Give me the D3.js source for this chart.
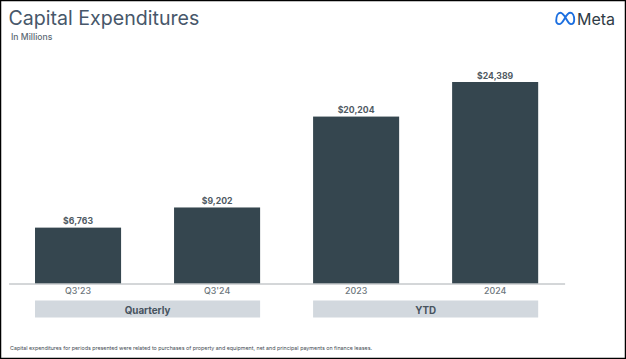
<!DOCTYPE html>
<html>
<head>
<meta charset="utf-8">
<script src="https://cdn.jsdelivr.net/npm/d3@7"></script>
<style>
  html, body { margin: 0; padding: 0; background: #fff; }
  svg { display: block; }
  text { font-family: Inter, "Open Sans", sans-serif; }
</style>
</head>
<body>
<div id="chart"></div>
<script>
var periods = ["Q3'23", "Q3'24", "2023", "2024"];
var capex = [6763, 9202, 20204, 24389];
var groupNames = ["Quarterly", "YTD"];
var groupMembers = [["Q3'23", "Q3'24"], ["2023", "2024"]];

var width = 626, height = 359;

var svg = d3.select("#chart").append("svg")
  .attr("width", width)
  .attr("height", height);

// frame of the slide screenshot
svg.append("rect")
  .attr("x", 0.5).attr("y", 0.5)
  .attr("width", width - 1).attr("height", height - 1)
  .attr("fill", "#fff")
  .attr("stroke", "#000")
  .attr("stroke-width", 1.5);

var x_scale = d3.scaleBand()
  .domain(periods)
  .range([8.6, 564.6])
  .paddingInner(0.381)
  .paddingOuter(0.19);

var y_scale = d3.scaleLinear()
  .domain([0, 24389])
  .range([283.5, 82]);

// title
svg.append("text")
  .attr("x", 8.5).attr("y", 25)
  .attr("font-size", 19.6)
  .attr("fill", "#47576a")
  .text("Capital Expenditures");

svg.append("text")
  .attr("x", 11).attr("y", 40)
  .attr("font-size", 8.6)
  .attr("font-weight", 500)
  .attr("fill", "#5d6a75")
  .text("In Millions");

// bars
svg.selectAll("rect.bar")
  .data(periods)
  .join("rect")
  .attr("class", "bar")
  .attr("x", function(d) { return x_scale(d); })
  .attr("width", x_scale.bandwidth())
  .attr("y", function(d, i) { return y_scale(capex[i]); })
  .attr("height", function(d, i) { return y_scale(0) - y_scale(capex[i]); })
  .attr("fill", "#35464f");

// value labels
svg.selectAll("text.value")
  .data(periods)
  .join("text")
  .attr("class", "value")
  .attr("x", function(d) { return x_scale(d) + x_scale.bandwidth() / 2; })
  .attr("y", function(d, i) { return y_scale(capex[i]) - 3.2; })
  .attr("text-anchor", "middle")
  .attr("font-size", 8.7)
  .attr("font-weight", 700)
  .attr("fill", "#4f5a63")
  .text(function(d, i) { return d3.format("$,")(capex[i]); });

// axis
var axis = svg.append("g")
  .attr("transform", "translate(0,283.5)")
  .call(d3.axisBottom(x_scale).tickSize(0).tickPadding(4.5));

axis.select(".domain")
  .attr("stroke", "#a9aeb2")
  .attr("stroke-width", 1);

axis.selectAll("text")
  .attr("font-size", 8.9)
  .attr("font-weight", 500)
  .attr("fill", "#6d767c")
  .style("font-family", "Inter, sans-serif");

// group bands under the axis
groupNames.forEach(function(name, i) {
  var first = x_scale(groupMembers[i][0]);
  var last = x_scale(groupMembers[i][1]) + x_scale.bandwidth();
  svg.append("rect")
    .attr("x", first).attr("y", 300.5)
    .attr("width", last - first).attr("height", 17)
    .attr("fill", "#d2d8de");
  svg.append("text")
    .attr("x", (first + last) / 2).attr("y", 313.5)
    .attr("text-anchor", "middle")
    .attr("font-size", 9.8)
    .attr("font-weight", 700)
    .attr("fill", "#47535e")
    .text(name);
});

// footnote
svg.append("text")
  .attr("x", 10).attr("y", 350)
  .attr("font-size", 5.34)
  .attr("fill", "#3f4a52")
  .text("Capital expenditures for periods presented were related to purchases of property and equipment, net and principal payments on finance leases.");

// Meta logo
var logo = svg.append("g").attr("transform", "translate(555,11.5)");
logo.append("path")
  .attr("d", "M1.2 9.5C1.2 4.5 3 1.2 5.4 1.2C8 1.2 10 5.2 11.6 8C13 10.5 14 12.6 16 12.6C18 12.6 19.2 10.6 19.2 8C19.2 4.2 17.6 1.2 15.2 1.2C12.6 1.2 10.8 5 9.4 7.4C7.8 10.2 6.6 12.6 4.2 12.6C2.4 12.6 1.2 11.2 1.2 9.5Z")
  .attr("fill", "none")
  .attr("stroke", "#1c6fe0")
  .attr("stroke-width", 1.9);
svg.append("text")
  .attr("x", 577).attr("y", 24.5)
  .attr("font-size", 16)
  .attr("fill", "#2f3b46")
  .text("Meta");
</script>
</body>
</html>
